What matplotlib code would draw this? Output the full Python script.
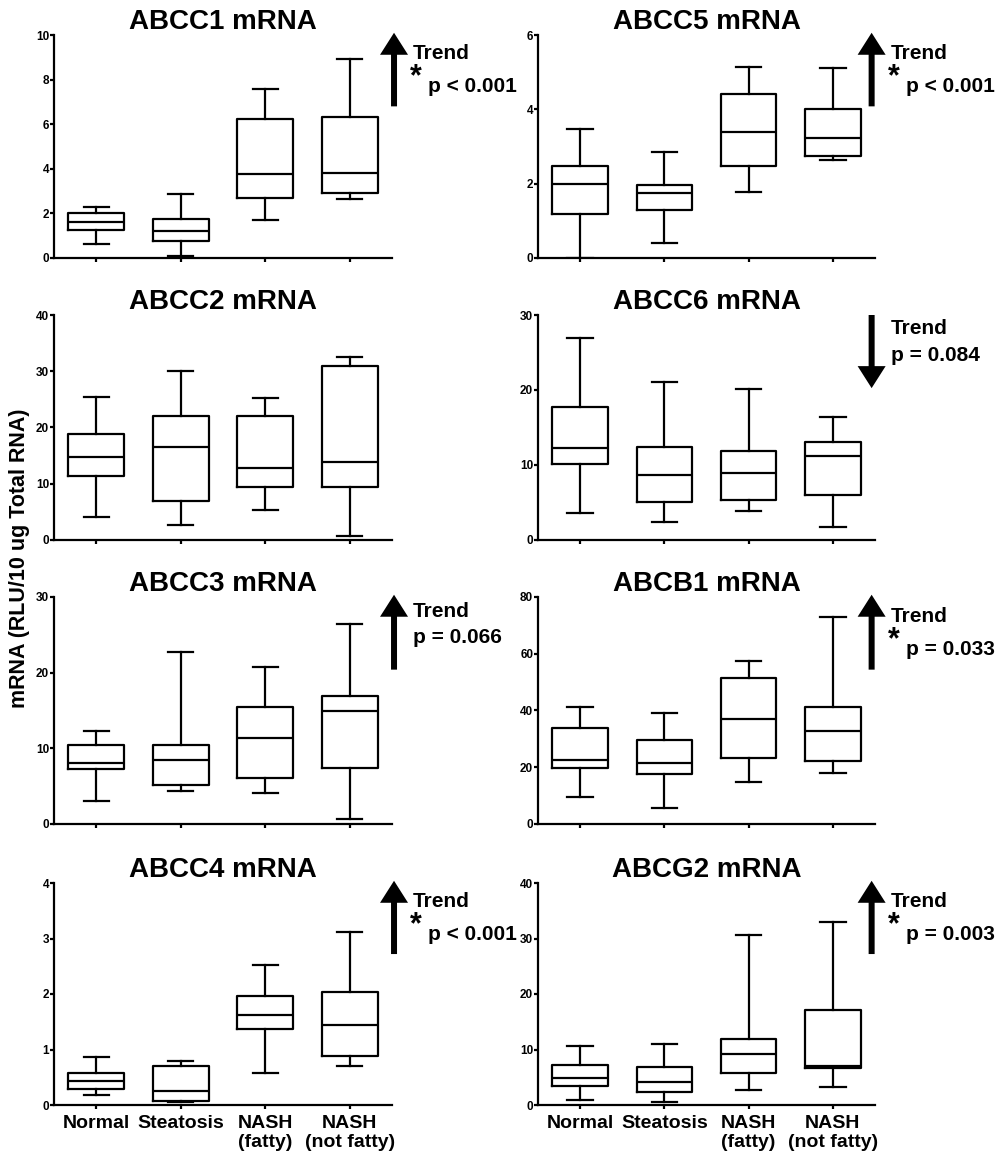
import matplotlib
matplotlib.use('Agg')
import matplotlib.pyplot as plt
import matplotlib.transforms as mtransforms

plt.rcParams['font.family'] = ['Liberation Sans', 'DejaVu Sans']
plt.rcParams['font.weight'] = 'bold'

groups = ['Normal', 'Steatosis', 'NASH\n(fatty)', 'NASH\n(not fatty)']

# five number summaries per group: [min, q1, median, q3, max]
abcc1 = [[0.61, 1.24, 1.62, 2.04, 2.29], [0.10, 0.75, 1.21, 1.75, 2.86],
         [1.71, 2.68, 3.77, 6.23, 7.56], [2.66, 2.92, 3.83, 6.33, 8.91]]
abcc5 = [[0.00, 1.19, 1.99, 2.47, 3.46], [0.40, 1.30, 1.75, 1.96, 2.85],
         [1.78, 2.47, 3.39, 4.42, 5.15], [2.63, 2.75, 3.23, 4.02, 5.11]]
abcc2 = [[4.1, 11.3, 14.8, 18.9, 25.4], [2.7, 7.0, 16.5, 22.1, 30.1],
         [5.4, 9.5, 12.8, 22.1, 25.2], [0.65, 9.5, 13.9, 31.0, 32.6]]
abcc6 = [[3.6, 10.1, 12.2, 17.7, 26.9], [2.4, 5.0, 8.7, 12.4, 21.1],
         [3.8, 5.3, 8.9, 11.9, 20.2], [1.7, 6.0, 11.2, 13.1, 16.4]]
abcc3 = [[3.0, 7.3, 8.0, 10.5, 12.3], [4.4, 5.1, 8.5, 10.5, 22.7],
         [4.1, 6.1, 11.3, 15.5, 20.8], [0.7, 7.45, 14.9, 16.9, 26.4]]
abcb1 = [[9.4, 19.8, 22.6, 33.9, 41.4], [5.8, 17.6, 21.5, 29.6, 39.1],
         [14.9, 23.4, 36.9, 51.4, 57.6], [18.1, 22.1, 32.8, 41.4, 72.9]]
abcc4 = [[0.18, 0.29, 0.44, 0.57, 0.87], [0.05, 0.07, 0.25, 0.71, 0.80],
         [0.58, 1.37, 1.63, 1.97, 2.52], [0.71, 0.89, 1.45, 2.03, 3.12]]
abcg2 = [[0.96, 3.42, 4.8, 7.26, 10.7], [0.48, 2.28, 4.2, 6.78, 10.97],
         [2.76, 5.7, 9.24, 11.9, 30.7], [3.18, 6.6, 7.0, 17.2, 33.0]]

titles = ['ABCC1 mRNA', 'ABCC5 mRNA', 'ABCC2 mRNA', 'ABCC6 mRNA',
          'ABCC3 mRNA', 'ABCB1 mRNA', 'ABCC4 mRNA', 'ABCG2 mRNA']
panel_data = [abcc1, abcc5, abcc2, abcc6, abcc3, abcb1, abcc4, abcg2]
yticks = [[0, 2, 4, 6, 8, 10], [0, 2, 4, 6], [0, 10, 20, 30, 40], [0, 10, 20, 30],
          [0, 10, 20, 30], [0, 20, 40, 60, 80], [0, 1, 2, 3, 4], [0, 10, 20, 30, 40]]
# trend direction, significance star, p value text (None = no annotation)
trend_dir = ['up', 'up', None, 'down', 'up', 'up', 'up', 'up']
trend_star = [True, True, False, False, False, True, True, True]
trend_p = ['p < 0.001', 'p < 0.001', None, 'p = 0.084', 'p = 0.066',
           'p = 0.033', 'p < 0.001', 'p = 0.003']

W, H = 996, 1155
# axes boxes in pixels: x0, x1, ytop, ybottom
cols = [(54, 392), (538, 875)]
rows = [(35, 258), (315, 540), (597, 824), (883, 1105)]
arrow_x = [1.006, 0.99]

fig = plt.figure(figsize=(W / 100, H / 100), dpi=100)

lw = 1.6
for i in range(8):
    r, c = divmod(i, 2)
    x0, x1 = cols[c]
    yt, yb = rows[r]
    ax = fig.add_axes([x0 / W, 1 - yb / H, (x1 - x0) / W, (yb - yt) / H])
    stats = [dict(whislo=d[0], q1=d[1], med=d[2], q3=d[3], whishi=d[4], fliers=[])
             for d in panel_data[i]]
    line = dict(color='black', lw=lw)
    ax.bxp(stats, positions=[1, 2, 3, 4], widths=0.66, capwidths=0.3,
           showfliers=False, boxprops=line, medianprops=line,
           whiskerprops=line, capprops=line)
    ax.set_xlim(0.5, 4.5)
    ax.set_ylim(0, yticks[i][-1])
    ax.set_yticks(yticks[i])
    ax.set_xticks([1, 2, 3, 4])
    if r == 3:
        ax.set_xticklabels(groups, fontsize=14, fontweight='bold')
    else:
        ax.set_xticklabels([])
    ax.tick_params(axis='y', labelsize=8.5, length=3, width=lw, pad=0.5)
    ax.tick_params(axis='x', length=3, width=lw, pad=4)
    for s in ['top', 'right']:
        ax.spines[s].set_visible(False)
    for s in ['left', 'bottom']:
        ax.spines[s].set_linewidth(lw)
    ax.set_title(titles[i], fontsize=20, fontweight='bold', pad=2)

    if trend_dir[i] is None:
        continue
    ax_w = x1 - x0
    ax_h = yb - yt
    xa = arrow_x[c]
    if trend_dir[i] == 'up':
        tail, tip = 0.68, 1.01
    else:
        tail, tip = 1.0, 0.675
    ax.arrow(xa, tail, 0, tip - tail, transform=ax.transAxes, width=6 / ax_w,
             head_width=28 / ax_w, head_length=22 / ax_h, length_includes_head=True,
             color='black', lw=0, clip_on=False)
    trans = lambda px: mtransforms.offset_copy(ax.transAxes, fig=fig, x=px, y=0, units='dots')
    if trend_star[i]:
        ty, py = 0.915, 0.77
        ax.text(xa, ty, 'Trend', transform=trans(19), fontsize=15, fontweight='bold',
                va='center', ha='left')
        ax.text(xa, py + 0.04, '*', transform=trans(16), fontsize=22, fontweight='bold',
                va='center', ha='left')
        ax.text(xa, py, trend_p[i], transform=trans(34), fontsize=15, fontweight='bold',
                va='center', ha='left')
    else:
        ty, py = 0.938, 0.82
        ax.text(xa, ty, 'Trend', transform=trans(19), fontsize=15, fontweight='bold',
                va='center', ha='left')
        ax.text(xa, py, trend_p[i], transform=trans(19), fontsize=15, fontweight='bold',
                va='center', ha='left')

fig.text(20 / W, 1 - 558 / H, 'mRNA (RLU/10 ug Total RNA)', rotation=90,
         fontsize=15.5, fontweight='bold', ha='center', va='center')

fig.savefig('out.png', dpi=100)
